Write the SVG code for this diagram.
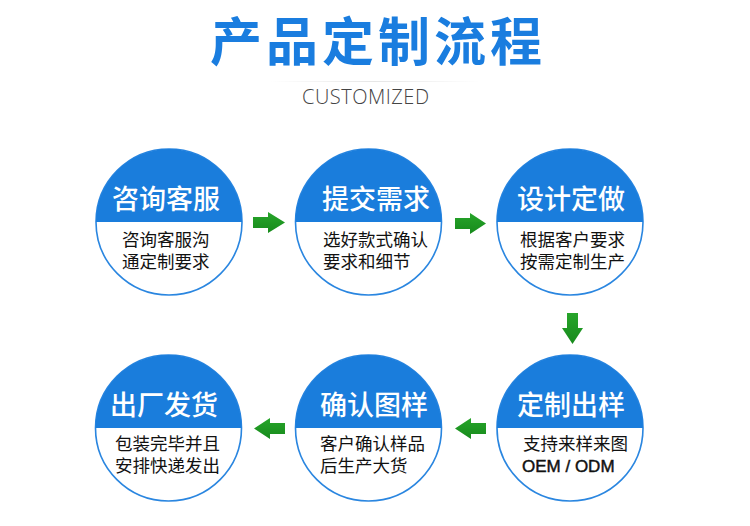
<svg xmlns="http://www.w3.org/2000/svg" width="750" height="526" viewBox="0 0 750 526">
<style>
.bg{fill:#ffffff}
.disc{fill:#ffffff;stroke:#2a86e0;stroke-width:1.6}
.cap{fill:#1a7ddc}
.head{font-family:"Noto Sans CJK SC","Noto Sans",sans-serif;font-size:27px;font-weight:500;fill:#ffffff;text-anchor:middle}
.sub{font-family:"Noto Sans CJK SC","Noto Sans",sans-serif;font-size:17.5px;fill:#111111}
.lat{font-family:"Liberation Sans",Arial,sans-serif;font-size:17px;font-weight:normal;fill:#111111;stroke:#111111;stroke-width:0.45}
.arrow{fill:url(#ag)}
</style>
<defs>
<linearGradient id="ag" x1="0" y1="0" x2="0" y2="1">
<stop offset="0" stop-color="#27a52a"/>
<stop offset="1" stop-color="#178a1c"/>
</linearGradient>
<linearGradient id="lg" x1="0" y1="0" x2="1" y2="0">
<stop offset="0" stop-color="#e6e6e6" stop-opacity="0"/>
<stop offset="0.5" stop-color="#e6e6e6" stop-opacity="1"/>
<stop offset="1" stop-color="#e6e6e6" stop-opacity="0"/>
</linearGradient>
</defs>
<rect class="bg" x="0" y="0" width="750" height="526"/>

<g id="title">
<text x="376" y="61" font-family="Noto Sans CJK SC,Noto Sans,sans-serif" font-size="52" font-weight="bold" fill="#1a7ddf" text-anchor="middle" textLength="332" lengthAdjust="spacing">产品定制流程</text>
<rect x="270" y="81" width="210" height="1" fill="url(#lg)"/>
<text x="302" y="104" font-family="Open Sans,Liberation Sans,sans-serif" font-size="20" font-weight="300" fill="#444444" textLength="127" lengthAdjust="spacing">CUSTOMIZED</text>
</g>

<g id="node-zixun">
<circle class="disc" cx="169" cy="222" r="73"/>
<path class="cap" d="M96,222 A73,73 0 0 1 242,222 Z"/>
<text class="head" x="166" y="209">咨询客服</text>
<text class="sub" x="122" y="246">咨询客服沟</text>
<text class="sub" x="122" y="268">通定制要求</text>
</g>

<g id="node-tijiao">
<circle class="disc" cx="368.5" cy="222" r="73"/>
<path class="cap" d="M295.5,222 A73,73 0 0 1 441.5,222 Z"/>
<text class="head" x="376" y="209">提交需求</text>
<text class="sub" x="323" y="246">选好款式确认</text>
<text class="sub" x="323" y="268">要求和细节</text>
</g>

<g id="node-sheji">
<circle class="disc" cx="570" cy="222" r="73"/>
<path class="cap" d="M497,222 A73,73 0 0 1 643,222 Z"/>
<text class="head" x="571" y="209">设计定做</text>
<text class="sub" x="520" y="246">根据客户要求</text>
<text class="sub" x="520" y="268">按需定制生产</text>
</g>

<g id="node-dingzhi">
<circle class="disc" cx="570" cy="428" r="73"/>
<path class="cap" d="M497,428 A73,73 0 0 1 643,428 Z"/>
<text class="head" x="571" y="415">定制出样</text>
<text class="sub" x="523" y="450">支持来样来图</text>
<text class="lat" x="522" y="472">OEM / ODM</text>
</g>

<g id="node-queren">
<circle class="disc" cx="368.5" cy="428" r="73"/>
<path class="cap" d="M295.5,428 A73,73 0 0 1 441.5,428 Z"/>
<text class="head" x="374" y="415">确认图样</text>
<text class="sub" x="320" y="450">客户确认样品</text>
<text class="sub" x="320" y="472">后生产大货</text>
</g>

<g id="node-chuchang">
<circle class="disc" cx="168.5" cy="428" r="73"/>
<path class="cap" d="M95.5,428 A73,73 0 0 1 241.5,428 Z"/>
<text class="head" x="164" y="415">出厂发货</text>
<text class="sub" x="115" y="450">包装完毕并且</text>
<text class="sub" x="115" y="472">安排快递发出</text>
</g>

<g id="connectors">
<path class="arrow" d="M253,217 H268 V212 L285,222.5 L268,233 V228 H253 Z"/>
<path class="arrow" d="M455,218 H470 V213 L486,223.5 L470,234 V229 H455 Z"/>
<path class="arrow" d="M567,313 H578 V328 H583 L572.5,344 L562,328 H567 Z"/>
<path class="arrow" d="M486,423 H471 V418 L455,428.5 L471,439 V434 H486 Z"/>
<path class="arrow" d="M285,423 H270 V418 L254,428.5 L270,439 V434 H285 Z"/>
</g>
</svg>
